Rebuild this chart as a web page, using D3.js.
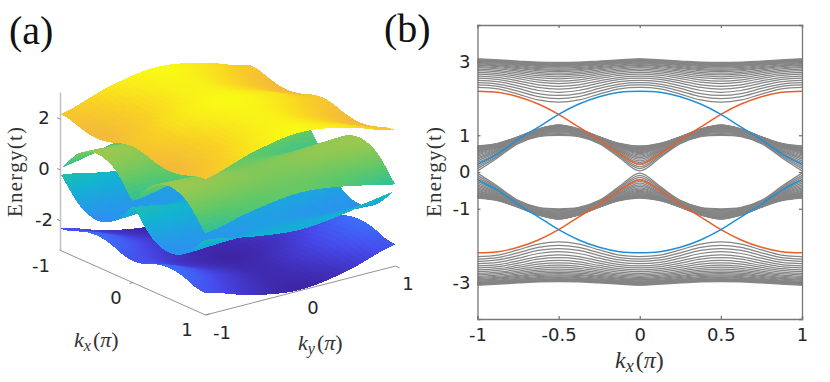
<!DOCTYPE html>
<html>
<head>
<meta charset="utf-8">
<script src="https://cdn.jsdelivr.net/npm/d3@7"></script>
<style>
	html, body { margin: 0; padding: 0; background: #fff; }
	svg { display: block; }
	text { fill: #262626; font-family: 'DejaVu Sans', sans-serif; font-size: 18px; }
	.panel { font-family: 'Liberation Serif', serif; font-size: 40px; fill: #111; }
	.tex { font-family: 'Liberation Serif', serif; font-size: 21px; fill: #333; }
	.tex .it { font-style: italic; }
	.axis path, .axis line { stroke: #777; stroke-width: 1.3; fill: none; }
	.axis text { fill: #262626; font-family: 'DejaVu Sans', sans-serif; font-size: 18px; }
	.grey { fill: none; stroke: #858585; stroke-width: 1.25; }
	.edge { fill: none; stroke-width: 1.5; }
	.cage { stroke: #777; stroke-width: 0.8; fill: none; }
</style>
</head>
<body>
<svg id="chart" width="830" height="382"></svg>
<script>
// panel (b): k values of the knots every band is read at
const kxKnots = [-1, -0.875, -0.75, -0.625, -0.5, -0.375, -0.25, -0.125, 0, 0.125, 0.25, 0.375, 0.5, 0.625, 0.75, 0.875, 1]
const kxTicks = [-1, -0.5, 0, 0.5, 1]
const energyTicks = [-3, -1, 0, 1, 3]

const upperOuter = [3.08, 3.05, 3.02, 2.99, 2.98, 2.99, 3.02, 3.05, 3.08, 3.05, 3.02, 2.99, 2.98, 2.99, 3.02, 3.05, 3.08]
const upperInner = [2.3, 2.26, 2.12, 1.96, 1.9, 1.96, 2.12, 2.26, 2.3, 2.26, 2.12, 1.96, 1.9, 1.96, 2.12, 2.26, 2.3]
const midOuter = [0.71, 0.78, 0.96, 1.17, 1.28, 1.17, 0.96, 0.78, 0.71, 0.78, 0.96, 1.17, 1.28, 1.17, 0.96, 0.78, 0.71]
const midInner = [0.03, 0.39, 0.77, 0.96, 1.0, 0.96, 0.77, 0.39, 0.03, 0.39, 0.77, 0.96, 1.0, 0.96, 0.77, 0.39, 0.03]
const lowMidOuter = [-0.71, -0.78, -0.96, -1.17, -1.28, -1.17, -0.96, -0.78, -0.71, -0.78, -0.96, -1.17, -1.28, -1.17, -0.96, -0.78, -0.71]
const lowMidInner = [-0.03, -0.39, -0.77, -0.96, -1.0, -0.96, -0.77, -0.39, -0.03, -0.39, -0.77, -0.96, -1.0, -0.96, -0.77, -0.39, -0.03]
const lowerOuter = [-3.08, -3.05, -3.02, -2.99, -2.98, -2.99, -3.02, -3.05, -3.08, -3.05, -3.02, -2.99, -2.98, -2.99, -3.02, -3.05, -3.08]
const lowerInner = [-2.3, -2.26, -2.12, -1.96, -1.9, -1.96, -2.12, -2.26, -2.3, -2.26, -2.12, -1.96, -1.9, -1.96, -2.12, -2.26, -2.3]

// where each grey line sits between a band's inner and outer edge
const lineLevels = [0, 0.09, 0.17, 0.25, 0.33, 0.4, 0.47, 0.53, 0.59, 0.64, 0.69, 0.73, 0.77, 0.8, 0.83, 0.86, 0.885, 0.905, 0.925, 0.94, 0.955, 0.97, 0.985, 1]

const blueUp = [0.21, 0.5, 0.88, 1.22, 1.57, 1.85, 2.05, 2.17, 2.2, 2.17, 2.05, 1.85, 1.57, 1.22, 0.88, 0.5, 0.21]
const blueDown = [-0.21, -0.5, -0.88, -1.22, -1.57, -1.85, -2.05, -2.17, -2.2, -2.17, -2.05, -1.85, -1.57, -1.22, -0.88, -0.5, -0.21]
const orangeUp = [2.2, 2.17, 2.05, 1.85, 1.57, 1.22, 0.88, 0.5, 0.21, 0.5, 0.88, 1.22, 1.57, 1.85, 2.05, 2.17, 2.2]
const orangeDown = [-2.2, -2.17, -2.05, -1.85, -1.57, -1.22, -0.88, -0.5, -0.21, -0.5, -0.88, -1.22, -1.57, -1.85, -2.05, -2.17, -2.2]

// panel (a): surface heights, one row per ky knot, kx along the row
const kyKnots = [-1, -0.5, 0, 0.5, 1]
const topEdgeRow = [2.2, 2.15, 2.02, 1.92, 1.88, 1.92, 2.02, 2.15, 2.2, 2.15, 2.02, 1.92, 1.88, 1.92, 2.02, 2.15, 2.2]
const topHalfRow = [2.78, 2.74, 2.65, 2.58, 2.55, 2.58, 2.65, 2.74, 2.78, 2.74, 2.65, 2.58, 2.55, 2.58, 2.65, 2.74, 2.78]
const topMidRow = [3.08, 3.06, 3.02, 2.99, 2.98, 2.99, 3.02, 3.06, 3.08, 3.06, 3.02, 2.99, 2.98, 2.99, 3.02, 3.06, 3.08]
const upEdgeRow = [0.07, 0.55, 0.98, 1.2, 1.28, 1.2, 0.98, 0.55, 0.07, 0.55, 0.98, 1.2, 1.28, 1.2, 0.98, 0.55, 0.07]
const upHalfRow = [0.48, 0.64, 0.9, 1.1, 1.16, 1.1, 0.9, 0.64, 0.48, 0.64, 0.9, 1.1, 1.16, 1.1, 0.9, 0.64, 0.48]
const upMidRow = [0.71, 0.76, 0.84, 0.96, 1.0, 0.96, 0.84, 0.76, 0.71, 0.76, 0.84, 0.96, 1.0, 0.96, 0.84, 0.76, 0.71]
const downEdgeRow = [-0.19, -0.62, -1.03, -1.26, -1.34, -1.26, -1.03, -0.62, -0.19, -0.62, -1.03, -1.26, -1.34, -1.26, -1.03, -0.62, -0.19]
const downHalfRow = [-0.55, -0.7, -0.95, -1.15, -1.22, -1.15, -0.95, -0.7, -0.55, -0.7, -0.95, -1.15, -1.22, -1.15, -0.95, -0.7, -0.55]
const downMidRow = [-0.75, -0.8, -0.9, -1.02, -1.06, -1.02, -0.9, -0.8, -0.75, -0.8, -0.9, -1.02, -1.06, -1.02, -0.9, -0.8, -0.75]
const lowEdgeRow = [-2.3, -2.25, -2.1, -1.98, -1.94, -1.98, -2.1, -2.25, -2.3, -2.25, -2.1, -1.98, -1.94, -1.98, -2.1, -2.25, -2.3]
const lowHalfRow = [-2.85, -2.8, -2.72, -2.65, -2.62, -2.65, -2.72, -2.8, -2.85, -2.8, -2.72, -2.65, -2.62, -2.65, -2.72, -2.8, -2.85]
const lowMidRow = [-3.12, -3.1, -3.06, -3.03, -3.02, -3.03, -3.06, -3.1, -3.12, -3.1, -3.06, -3.03, -3.02, -3.03, -3.06, -3.1, -3.12]

const surfaceTicksZ = [-2, 0, 2]

// parula-like colormap stops
const parulaStops = ['#3e26a8', '#4749eb', '#3a74fb', '#2797eb', '#12b3d1', '#28c0a0', '#5cc86a', '#98c850', '#f2b83c', '#f9d025', '#f9fb15']

const svg = d3.select('#chart')

const BLUE = '#1f8fd6'
const ORANGE = '#e5602a'

// the reference is a soft upscaled bitmap
const defs = svg.append('defs')
defs.append('filter').attr('id', 'soft')
	.attr('color-interpolation-filters', 'sRGB')
	.append('feGaussianBlur').attr('stdDeviation', 0.5)

function catmull(p0, p1, p2, p3, t) {
	return 0.5 * ((2 * p1) + (p2 - p0) * t + (2 * p0 - 5 * p1 + 4 * p2 - p3) * t * t + (3 * p1 - p0 - 3 * p2 + p3) * t * t * t)
}

function sampleRow(row, pos) {
	const i = Math.min(Math.floor(pos), row.length - 2)
	const t = pos - i
	const at = (j) => row[Math.max(0, Math.min(row.length - 1, j))]
	return catmull(at(i - 1), at(i), at(i + 1), at(i + 2), t)
}

function sampleSurface(rows, ix, iy) {
	const col = rows.map(row => sampleRow(row, ix))
	return sampleRow(col, iy)
}

function drawSurfaces() {
	// base plane: kx runs down-right from the left corner, ky runs up-right
	const xFromKx = d3.scaleLinear().domain([-1, 1]).range([0, 145])
	const yFromKx = d3.scaleLinear().domain([-1, 1]).range([0, 65])
	const xFromKy = d3.scaleLinear().domain([-1, 1]).range([0, 190])
	const yFromKy = d3.scaleLinear().domain([-1, 1]).range([0, -49])
	const yFromZ = d3.scaleLinear().domain([0, 2]).range([170, 119.2])
	const zBase = yFromZ.invert(250)

	const px = (kx, ky) => 60.5 + xFromKx(kx) + xFromKy(ky)
	const py = (kx, ky, z) => yFromZ(z) + yFromKx(kx) + yFromKy(ky)

	const colorDomain = parulaStops.map((c, i) => -3.1 + 6.2 * i / (parulaStops.length - 1))
	const color = d3.scaleLinear().domain(colorDomain).range(parulaStops).interpolate(d3.interpolateRgb)

	const g = svg.append('g').attr('class', 'surface')

	// cage first so the surfaces sit on top of it
	const cage = g.append('g')
	cage.append('line')
		.attr('x1', px(-1, -1)).attr('y1', py(-1, -1, zBase))
		.attr('x2', px(-1, -1)).attr('y2', yFromZ(3.05))
		.attr('stroke', '#c4c4c4').attr('stroke-width', 1.6)
	cage.append('path').attr('class', 'cage')
		.attr('d', d3.line()([
			[px(-1, -1) - 1, py(-1, -1, zBase)],
			[px(1, -1), py(1, -1, zBase)],
			[px(1, 1), py(1, 1, zBase)]
		]))
	surfaceTicksZ.forEach((z) => {
		cage.append('line').attr('class', 'cage')
			.attr('x1', px(-1, -1)).attr('x2', px(-1, -1) - 3.5)
			.attr('y1', yFromZ(z)).attr('y2', yFromZ(z) - 1.5)
	})
	cage.append('line').attr('class', 'cage')
		.attr('x1', px(0, -1)).attr('y1', py(0, -1, zBase))
		.attr('x2', px(0, -1) - 3.5).attr('y2', py(0, -1, zBase) + 1)
	cage.append('line').attr('class', 'cage')
		.attr('x1', px(1, 0)).attr('y1', py(1, 0, zBase))
		.attr('x2', px(1, 0) - 3.5).attr('y2', py(1, 0, zBase) - 1)
	cage.append('line').attr('class', 'cage')
		.attr('x1', px(1, 1)).attr('y1', py(1, 1, zBase))
		.attr('x2', px(1, 1) + 4).attr('y2', py(1, 1, zBase) + 2)
	cage.append('line').attr('class', 'cage')
		.attr('x1', px(1, -1)).attr('y1', py(1, -1, zBase))
		.attr('x2', px(1, -1) + 4).attr('y2', py(1, -1, zBase) - 1)

	const surfaces = [
		[lowEdgeRow, lowHalfRow, lowMidRow, lowHalfRow, lowEdgeRow],
		[downEdgeRow, downHalfRow, downMidRow, downHalfRow, downEdgeRow],
		[upEdgeRow, upHalfRow, upMidRow, upHalfRow, upEdgeRow],
		[topEdgeRow, topHalfRow, topMidRow, topHalfRow, topEdgeRow]
	]

	const NX = 64
	const NY = 36
	const kxScale = d3.scaleLinear().domain([0, NX]).range([-1, 1])
	const kyScale = d3.scaleLinear().domain([0, NY]).range([-1, 1])

	const sheets = g.append('g').attr('filter', 'url(#soft)')

	surfaces.forEach((rows) => {
		const layer = sheets.append('g').attr('shape-rendering', 'crispEdges')
		const stepX = (kxKnots.length - 1) / NX
		const stepY = (kyKnots.length - 1) / NY
		const zAt = d3.range(NX + 1).map(i => d3.range(NY + 1).map(j => sampleSurface(rows, i * stepX, j * stepY)))
		// back corner is kx=-1, ky=1: paint from there towards the viewer
		for (let i = 0; i < NX; i++) {
			for (let j = NY - 1; j >= 0; j--) {
				const k0 = kxScale(i), k1 = kxScale(i + 1)
				const q0 = kyScale(j), q1 = kyScale(j + 1)
				const pts = [
					[px(k0, q0), py(k0, q0, zAt[i][j])],
					[px(k1, q0), py(k1, q0, zAt[i + 1][j])],
					[px(k1, q1), py(k1, q1, zAt[i + 1][j + 1])],
					[px(k0, q1), py(k0, q1, zAt[i][j + 1])]
				]
				const z = (zAt[i][j] + zAt[i + 1][j] + zAt[i + 1][j + 1] + zAt[i][j + 1]) / 4
				layer.append('path')
					.attr('d', 'M' + pts.join('L') + 'Z')
					.attr('fill', color(z))
			}
		}
	})

	// tick labels
	const labels = [
		['2', 44, 117], ['0', 44, 168], ['-2', 44, 219],
		['-1', 41, 265], ['0', 116, 297], ['1', 187, 329],
		['-1', 222, 332], ['0', 313, 307], ['1', 408, 283]
	]
	g.selectAll('.tick-label')
		.data(labels)
		.enter().append('text')
		.attr('class', 'tick-label')
		.attr('text-anchor', 'middle')
		.attr('dominant-baseline', 'central')
		.attr('x', d => d[1])
		.attr('y', d => d[2])
		.text(d => d[0])
}

function drawBands() {
	const x = d3.scaleLinear().domain([-1, 1]).range([477.5, 802])
	const y = d3.scaleLinear().domain([-4, 4]).range([319, 25])

	const g = svg.append('g').attr('class', 'bands')
	const marks = g.append('g').attr('filter', 'url(#soft)')

	const line = d3.line()
		.x((d, i) => x(kxKnots[i]))
		.y(d => y(d))
		.curve(d3.curveCatmullRom.alpha(0.5))

	const pairs = [
		[upperInner, upperOuter],
		[midInner, midOuter],
		[lowMidInner, lowMidOuter],
		[lowerInner, lowerOuter]
	]

	pairs.forEach(([inner, outer]) => {
		lineLevels.forEach((level) => {
			marks.append('path')
				.attr('class', 'grey')
				.attr('d', line(inner.map((v, i) => v + (outer[i] - v) * level)))
		})
	})

	const edges = [
		[orangeUp, ORANGE], [orangeDown, ORANGE],
		[blueUp, BLUE], [blueDown, BLUE]
	]
	edges.forEach(([values, stroke]) => {
		marks.append('path')
			.attr('class', 'edge')
			.attr('stroke', stroke)
			.attr('d', line(values))
	})

	// axes, ticks point inwards on all four sides
	const TICK = 3
	const plain = d => String(d)
	g.append('g').attr('class', 'axis')
		.attr('transform', 'translate(0,319)')
		.call(d3.axisBottom(x).tickValues(kxTicks).tickFormat(plain).tickSize(-TICK).tickPadding(9))
	g.append('g').attr('class', 'axis')
		.attr('transform', 'translate(0,25)')
		.call(d3.axisTop(x).tickValues(kxTicks).tickFormat('').tickSize(-TICK))
	g.append('g').attr('class', 'axis')
		.attr('transform', 'translate(477.5,0)')
		.call(d3.axisLeft(y).tickValues(energyTicks).tickFormat(plain).tickSize(-TICK).tickPadding(7))
	g.append('g').attr('class', 'axis')
		.attr('transform', 'translate(802,0)')
		.call(d3.axisRight(y).tickValues(energyTicks).tickFormat('').tickSize(-TICK))
}

function kLabel(sub, xPos, yPos, size) {
	const t = svg.append('text').attr('class', 'tex').attr('x', xPos).attr('y', yPos).style('font-size', `${size}px`)
	t.append('tspan').attr('class', 'it').text('k')
	t.append('tspan').attr('class', 'it').attr('dy', 4).style('font-size', `${size - 6}px`).text(sub)
	t.append('tspan').attr('dy', -4).attr('dx', 2).text('(')
	t.append('tspan').attr('class', 'it').text('π')
	t.append('tspan').text(')')
}

function energyLabel(xPos, yPos) {
	svg.append('text')
		.attr('class', 'tex')
		.attr('transform', `translate(${xPos},${yPos}) rotate(-90)`)
		.attr('text-anchor', 'middle')
		.attr('textLength', 90)
		.attr('lengthAdjust', 'spacing')
		.text('Energy(t)')
}

function init() {
	drawSurfaces()
	drawBands()

	svg.append('text').attr('class', 'panel').attr('x', 9).attr('y', 44).text('(a)')
	svg.append('text').attr('class', 'panel').attr('x', 384).attr('y', 42).text('(b)')

	energyLabel(22, 172)
	energyLabel(441, 172)
	kLabel('x', 74, 347, 22)
	kLabel('y', 298, 350, 22)
	kLabel('x', 615, 368, 24)
}

init()
</script>
</body>
</html>
